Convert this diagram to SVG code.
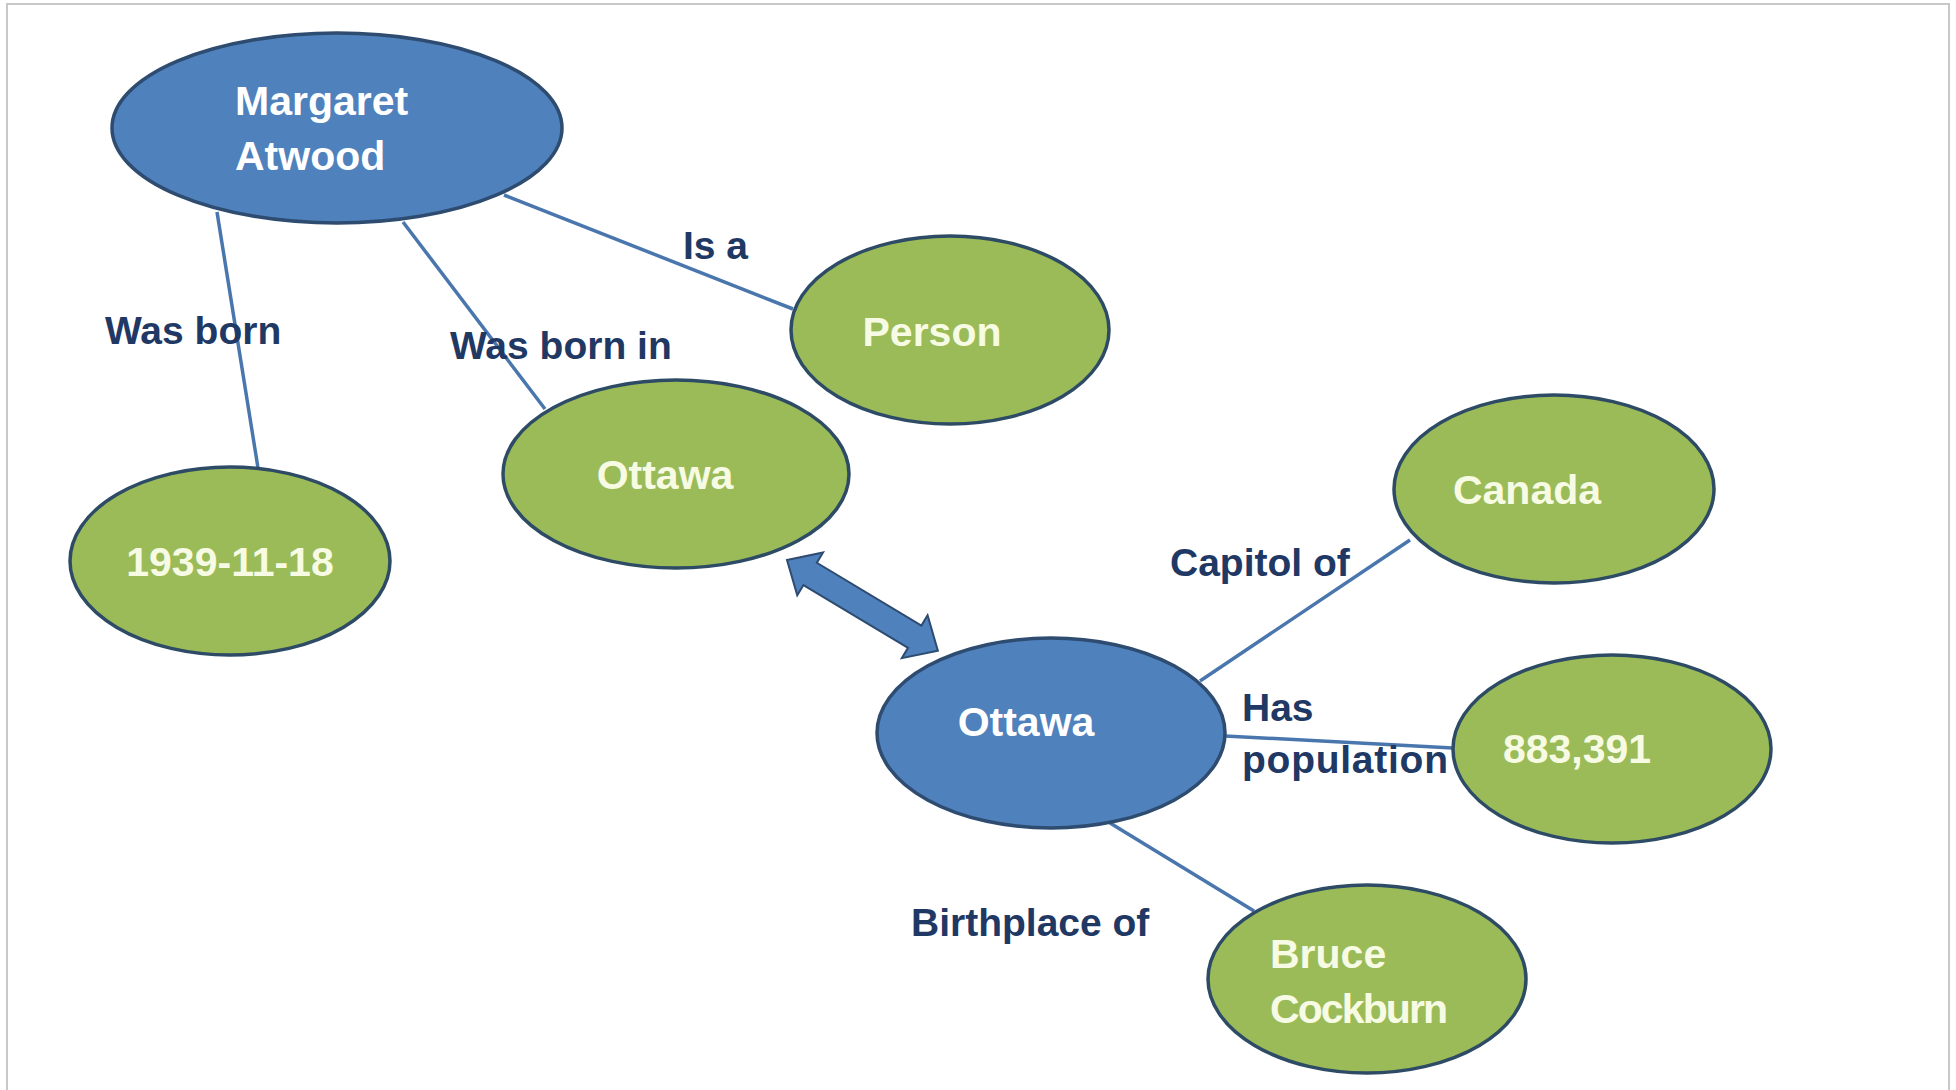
<svg xmlns="http://www.w3.org/2000/svg" width="1956" height="1090" viewBox="0 0 1956 1090">
  <style>
    .blue { fill: #4F81BD; stroke: #2E4B70; stroke-width: 3.5; }
    .green { fill: #9BBB59; stroke: #2E4B66; stroke-width: 3.5; }
    .ntext { font-family: "Liberation Sans", Arial, sans-serif; font-weight: bold; font-size: 41px; fill: #F7FBE4; }
    .btext { font-family: "Liberation Sans", Arial, sans-serif; font-weight: bold; font-size: 41px; fill: #FFFFFF; }
    .label { font-family: "Liberation Sans", Arial, sans-serif; font-weight: bold; font-size: 39px; fill: #1F3864; }
    .edge { stroke: #4A76AE; stroke-width: 3.5; fill: none; }
  </style>

  <rect width="1956" height="1090" fill="#FFFFFF"/>
  <!-- page frame -->
  <path d="M7,1090 V4 H1949 V1090" fill="none" stroke="#C8C8C8" stroke-width="2"/>

  <g id="connectors">
    <line class="edge" x1="217" y1="212" x2="258" y2="468"/>
    <line class="edge" x1="403" y1="222" x2="545" y2="409"/>
    <line class="edge" x1="504" y1="195" x2="793" y2="309"/>
    <line class="edge" x1="1200" y1="681" x2="1410" y2="540"/>
    <line class="edge" x1="1225" y1="736" x2="1453" y2="748" stroke-width="4.5"/>
    <line class="edge" x1="1110" y1="823" x2="1254" y2="911"/>
    <!-- same-as block arrow between the two Ottawa nodes -->
    <polygon transform="translate(787,560) rotate(31)" fill="#4F81BD" stroke="#2E4B70" stroke-width="2"
      points="0,0 27,-25 27,-13 149,-13 149,-25 176,0 149,25 149,13 27,13 27,25"/>
  </g>

  <g id="edge-labels">
    <text class="label" x="105" y="344">Was born</text>
    <text class="label" x="450" y="359">Was born in</text>
    <text class="label" x="683" y="259">Is a</text>
    <text class="label" x="1170" y="576">Capitol of</text>
    <text class="label" x="1242" y="721">Has</text>
    <text class="label" x="1242" y="773" textLength="206">population</text>
    <text class="label" x="911" y="936">Birthplace of</text>
  </g>

  <g id="node-margaret-atwood">
    <ellipse class="blue" cx="337" cy="128" rx="225" ry="95"/>
    <text class="btext" x="235" y="115">Margaret</text>
    <text class="btext" x="235" y="170">Atwood</text>
  </g>

  <g id="node-person">
    <ellipse class="green" cx="950" cy="330" rx="159" ry="94"/>
    <text class="ntext" x="932" y="346" text-anchor="middle">Person</text>
  </g>

  <g id="node-ottawa-green">
    <ellipse class="green" cx="676" cy="474" rx="173" ry="94"/>
    <text class="ntext" x="665" y="489" text-anchor="middle">Ottawa</text>
  </g>

  <g id="node-birthdate">
    <ellipse class="green" cx="230" cy="561" rx="160" ry="94"/>
    <text class="ntext" x="230" y="576" text-anchor="middle">1939-11-18</text>
  </g>

  <g id="node-canada">
    <ellipse class="green" cx="1554" cy="489" rx="160" ry="94"/>
    <text class="ntext" x="1527" y="504" text-anchor="middle">Canada</text>
  </g>

  <g id="node-ottawa-blue">
    <ellipse class="blue" cx="1051" cy="733" rx="174" ry="95"/>
    <text class="btext" x="1026" y="736" text-anchor="middle">Ottawa</text>
  </g>

  <g id="node-population">
    <ellipse class="green" cx="1612" cy="749" rx="159" ry="94"/>
    <text class="ntext" x="1577" y="763" text-anchor="middle">883,391</text>
  </g>

  <g id="node-bruce-cockburn">
    <ellipse class="green" cx="1367" cy="979" rx="159" ry="94"/>
    <text class="ntext" x="1270" y="968">Bruce</text>
    <text class="ntext" x="1270" y="1023" textLength="178">Cockburn</text>
  </g>
</svg>
